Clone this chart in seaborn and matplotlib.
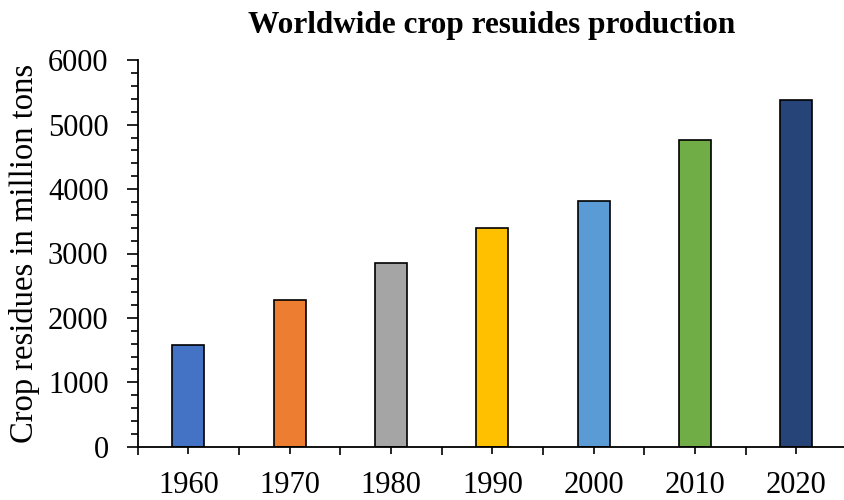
import matplotlib
matplotlib.use("Agg")
import matplotlib.pyplot as plt
import seaborn as sns
import pandas as pd
from matplotlib.ticker import MultipleLocator, FixedLocator

years = ["1960", "1970", "1980", "1990", "2000", "2010", "2020"]
residues = [1580, 2280, 2860, 3400, 3810, 4770, 5390]
bar_colors = ["#4472C4", "#ED7D31", "#A5A5A5", "#FFC000", "#5B9BD5", "#70AD47", "#264478"]

df = pd.DataFrame({"year": years, "residues": residues})

sns.set_style("white")
plt.rcParams["font.family"] = ["Liberation Serif", "DejaVu Serif"]
plt.rcParams["text.color"] = "black"
plt.rcParams["axes.labelcolor"] = "black"
plt.rcParams["xtick.color"] = "black"
plt.rcParams["ytick.color"] = "black"

fig = plt.figure(figsize=(8.45, 5.0), dpi=100)
ax = fig.add_axes([0.163, 0.1066, 0.837, 0.7728])

sns.barplot(data=df, x="year", y="residues", hue="year", palette=bar_colors,
            legend=False, width=0.317, edgecolor="black", linewidth=1.2,
            saturation=1, ax=ax)

ax.set_ylim(0, 6000)
ax.set_xlim(-0.5, 6.48)
ax.yaxis.set_major_locator(MultipleLocator(1000))
ax.yaxis.set_minor_locator(MultipleLocator(200))
ax.xaxis.set_minor_locator(FixedLocator([i - 0.5 for i in range(len(years) + 1)]))

for side in ("top", "right"):
    ax.spines[side].set_visible(False)
for side in ("left", "bottom"):
    ax.spines[side].set_color("black")
    ax.spines[side].set_linewidth(1.3)

ax.tick_params(axis="y", which="major", direction="out", length=8, width=1.2,
               color="black", left=True, pad=13, labelsize=22, labelcolor="black")
ax.tick_params(axis="y", which="minor", direction="out", length=4.8, width=1.2,
               color="black", left=True)
ax.tick_params(axis="x", which="major", direction="out", length=4.8, width=1.2,
               color="black", bottom=True, pad=13, labelsize=22, labelcolor="black")
ax.tick_params(axis="x", which="minor", direction="out", length=6, width=1.2,
               color="black", bottom=True)

ax.set_xlabel("")
ax.set_ylabel("Crop residues in million tons", fontsize=23.5, labelpad=6, color="black")
ax.set_title("Worldwide crop resuides production", fontsize=22.5, fontweight="bold",
             pad=20, color="black")

fig.savefig("out.png", dpi=100)
